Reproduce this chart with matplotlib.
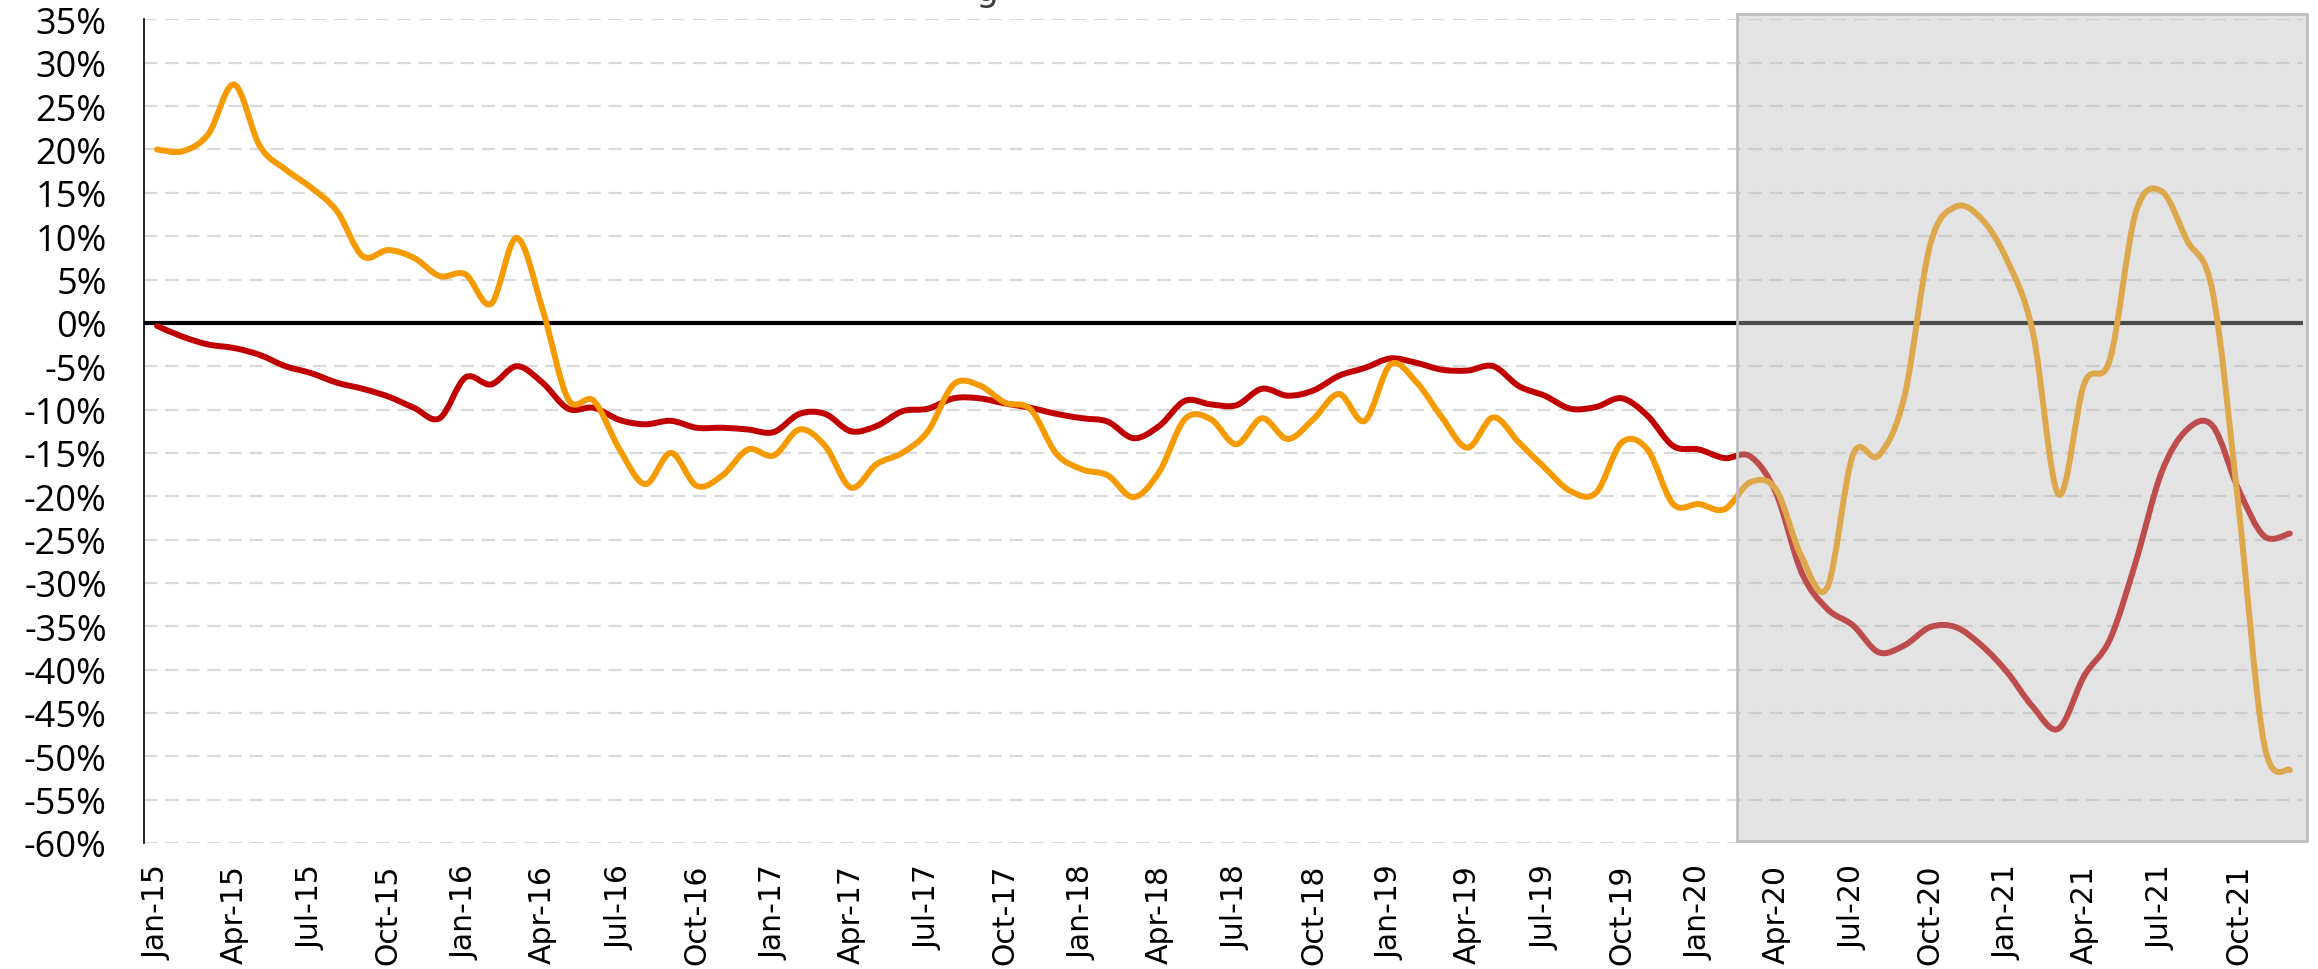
import numpy as np
import pandas as pd
import matplotlib
matplotlib.use("Agg")
import matplotlib.pyplot as plt
from matplotlib.path import Path
from matplotlib.patches import PathPatch, Rectangle

# monthly series, Jan-15 .. Dec-21 (percent)
months = pd.date_range("2015-01-01", periods=84, freq="MS")
month_labels = [d.strftime("%b-%y") for d in months]

red_vals = [
    -0.35, -1.6, -2.5, -2.9, -3.7, -5.0, -5.8, -6.9, -7.6, -8.5, -9.8, -11.0,
    -6.3, -7.1, -5.0, -6.9, -9.9, -9.8, -11.2, -11.7, -11.3, -12.1, -12.1, -12.3,
    -12.6, -10.5, -10.5, -12.5, -11.9, -10.2, -9.9, -8.7, -8.7, -9.3, -9.8, -10.5,
    -11.0, -11.4, -13.3, -11.9, -9.0, -9.4, -9.5, -7.6, -8.4, -7.8, -6.1, -5.2,
    -4.1, -4.6, -5.4, -5.5, -5.0, -7.3, -8.4, -9.9, -9.7, -8.7, -10.7, -14.2,
    -14.6, -15.6, -15.4, -19.6, -28.8, -33.0, -34.9, -38.0, -37.2, -35.1, -35.1, -37.2,
    -40.3, -44.3, -46.8, -40.7, -36.5, -27.6, -17.3, -12.3, -11.9, -19.2, -24.6, -24.3,
]

orange_vals = [
    20.0, 19.8, 21.8, 27.5, 20.4, 17.7, 15.6, 12.9, 7.7, 8.4, 7.5, 5.4,
    5.6, 2.2, 9.8, 1.6, -8.8, -9.0, -14.6, -18.6, -15.0, -18.8, -17.6, -14.6,
    -15.3, -12.3, -14.2, -19.0, -16.3, -15.0, -12.5, -7.1, -7.2, -9.2, -10.0, -15.1,
    -16.9, -17.6, -20.1, -17.2, -11.1, -11.1, -14.0, -11.0, -13.4, -11.1, -8.2, -11.3,
    -4.8, -6.8, -10.9, -14.4, -10.9, -13.8, -16.7, -19.4, -19.6, -13.8, -14.6, -20.9,
    -20.9, -21.5, -18.4, -19.2, -27.0, -30.5, -15.2, -15.3, -8.5, 9.0, 13.4, 12.0,
    7.2, -1.1, -19.8, -7.0, -4.2, 12.7, 15.2, 9.5, 3.5, -21.1, -48.6, -51.6,
]

y_ticks = list(range(-60, 40, 5))
shade_start, shade_end = 61.5, 83.66


def smooth_patch(x, y, color, lw):
    """Smoothed line through the points (Catmull-Rom as cubic Beziers)."""
    n = len(x)
    verts = [(x[0], y[0])]
    codes = [Path.MOVETO]
    for i in range(n - 1):
        a = max(i - 1, 0)
        d = min(i + 2, n - 1)
        c1 = (x[i] + (x[i + 1] - x[a]) / 6, y[i] + (y[i + 1] - y[a]) / 6)
        c2 = (x[i + 1] - (x[d] - x[i]) / 6, y[i + 1] - (y[d] - y[i]) / 6)
        verts += [c1, c2, (x[i + 1], y[i + 1])]
        codes += [Path.CURVE4] * 3
    return PathPatch(Path(verts, codes), fill=False, edgecolor=color, lw=lw,
                     capstyle="round", joinstyle="round", zorder=3)


fig = plt.figure(figsize=(23.18, 9.70), dpi=100)
ax = fig.add_axes([0.0622, 0.1299, 0.9312, 0.849])

x = np.arange(len(months))
ax.add_patch(smooth_patch(x, red_vals, "#C00000", 4.3))
ax.add_patch(smooth_patch(x, orange_vals, "#F59A00", 4.3))

ax.set_xlim(-0.5, len(months) - 0.5)
ax.set_ylim(-60, 35)

# gridlines + zero line
for v in y_ticks:
    if v == 0:
        continue
    ax.axhline(v, color="#D9D9D9", lw=1.6, dashes=(6, 3.5), zorder=1)
ax.axhline(0, color="black", lw=3, zorder=2)

# shaded period (drawn on top, semi-transparent)
ax.add_patch(Rectangle((shade_start, -59.75), shade_end - shade_start, 35.6 + 59.75,
                       facecolor=(0.733, 0.733, 0.733, 0.41), edgecolor="#BEBEBE",
                       lw=2, zorder=5, clip_on=False))

ax.set_yticks(y_ticks)
ax.set_yticklabels([f"{v}%" for v in y_ticks], fontfamily="Open Sans", fontsize=26)
ax.set_xticks(x[::3])
ax.set_xticklabels(month_labels[::3], rotation=90, fontfamily="DejaVu Sans",
                   fontsize=21.5)
ax.tick_params(axis="y", length=0, pad=27)
ax.tick_params(axis="x", length=0, pad=15)

for side in ["top", "right", "bottom"]:
    ax.spines[side].set_visible(False)
ax.spines["left"].set_color("black")
ax.spines["left"].set_linewidth(1.2)

# title sits above the canvas; only its descender shows
fig.text(0.426, 0.9985, "g", ha="center", va="baseline", fontsize=26,
         color="#404040")

fig.savefig("out.png", dpi=100)
